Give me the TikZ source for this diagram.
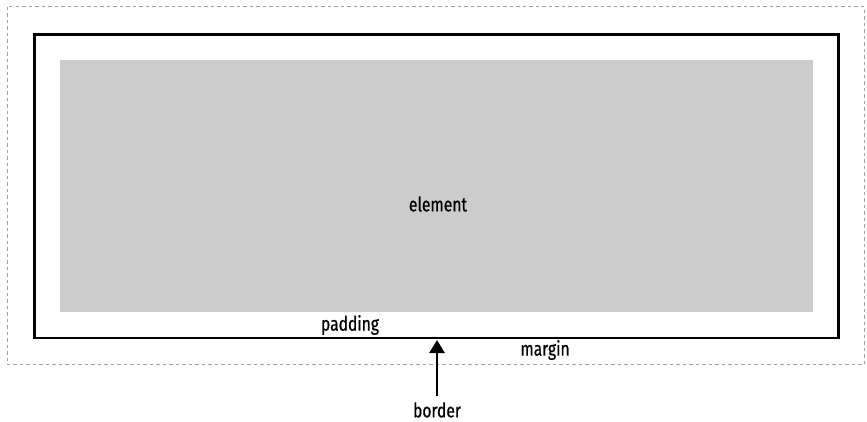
\documentclass[tikz,border=0pt]{standalone}
\usepackage{fontspec}
\setmainfont{Fira Sans}[FakeStretch=0.78, FakeBold=0.6]
\usetikzlibrary{arrows.meta}
\definecolor{elemgray}{HTML}{CCCCCC}
\definecolor{dashgray}{HTML}{A0A0A0}
\begin{document}
\begin{tikzpicture}[x=1pt,y=-1pt,
  lbl/.style={font=\fontsize{20}{22}\selectfont, inner sep=0pt, text=black},
  marginbox/.style={draw=dashgray, line width=0.8pt, dash pattern=on 3.5pt off 3pt},
  borderbox/.style={draw=black, line width=2.3pt},
  elembox/.style={fill=elemgray, draw=none},
  arrowline/.style={draw=black, line width=2.6pt, -{Triangle[length=13pt,width=15pt]}}]
\useasboundingbox (0,0) rectangle (867,421);
\draw[marginbox] (7,6.5) rectangle (864,364.5);
\draw[borderbox] (34.5,34.5) rectangle (838.5,338);
\fill[elembox] (60,60) rectangle (813,312);
\node[lbl] (element) at (438,204) {element};
\node[lbl] (padding) at (350,325) {padding};
\node[lbl] (margin) at (545,350) {margin};
\node[lbl] (border) at (437,410) {border};
\coordinate (tip) at (437,340);
\coordinate (tail) at (437,396);
\draw[arrowline] (tail) -- (tip);
\end{tikzpicture}
\end{document}
